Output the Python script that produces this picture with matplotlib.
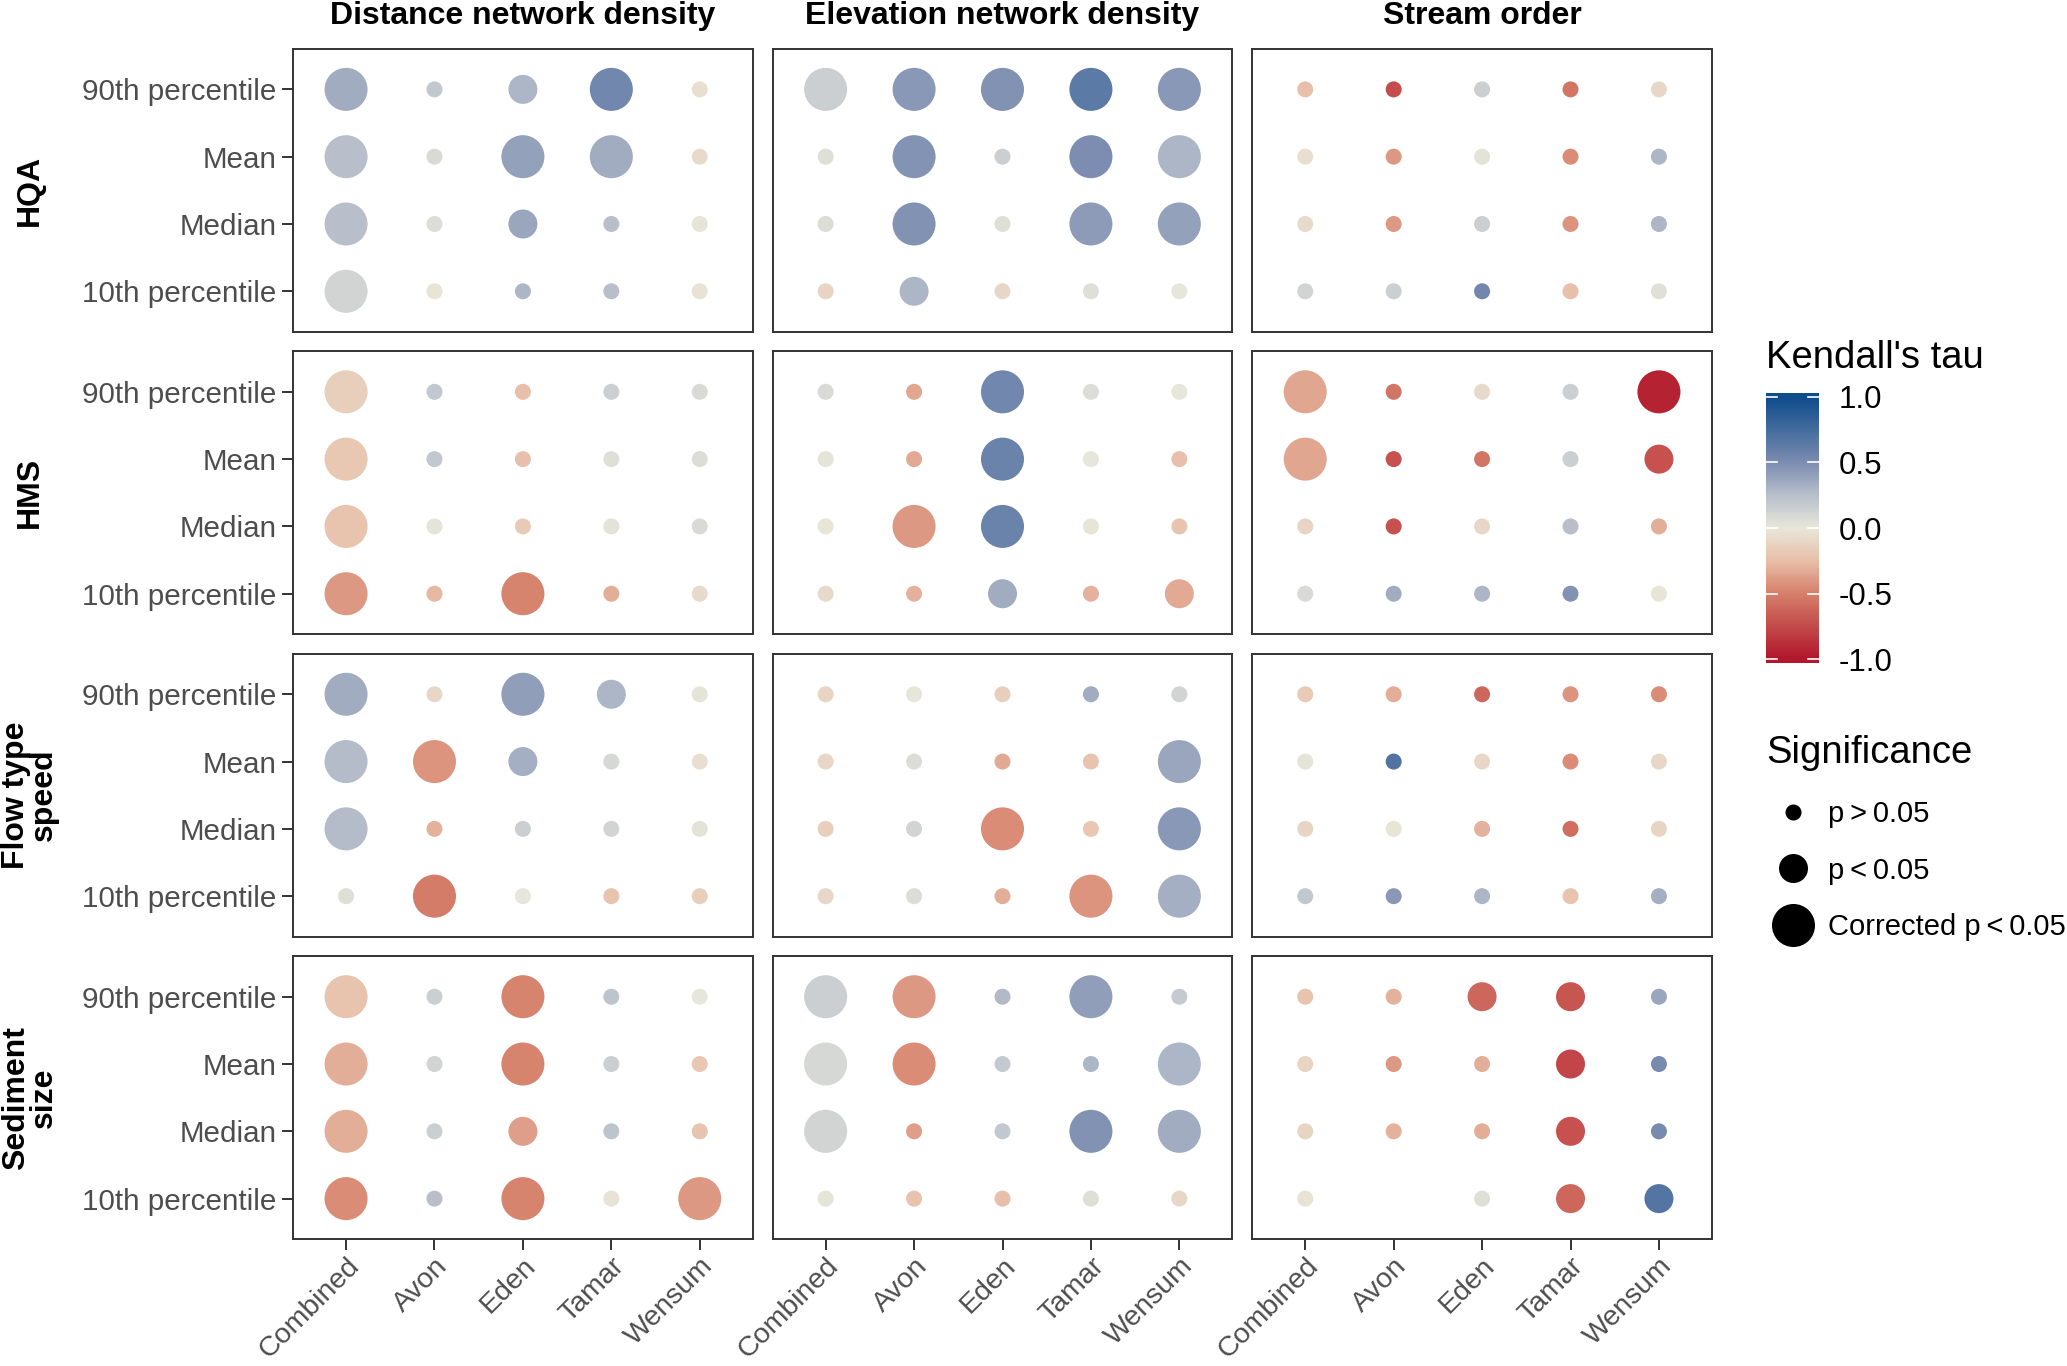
import numpy as np
import matplotlib.pyplot as plt
from matplotlib.colors import LinearSegmentedColormap
from matplotlib.lines import Line2D

plt.rcParams["font.family"] = ["Liberation Sans", "DejaVu Sans"]

# ── data ──────────────────────────────────────────────────────────────────────
sites = ["Combined", "Avon", "Eden", "Tamar", "Wensum"]
stats = ["90th percentile", "Mean", "Median", "10th percentile"]
predictors = ["Distance network density", "Elevation network density", "Stream order"]
responses = ["HQA", "HMS", "Flow type\nspeed", "Sediment\nsize"]
sig_labels = ["p\u2009>\u20090.05", "p\u2009<\u20090.05", "Corrected p\u2009<\u20090.05"]

# tau: rows = stats, cols = sites ; sig: 0 = p>0.05, 1 = p<0.05, 2 = corrected
hqa_distance_tau = [[0.35, 0.20, 0.30, 0.55, -0.05],
                    [0.25, 0.08, 0.40, 0.35, -0.08],
                    [0.25, 0.07, 0.38, 0.25, -0.02],
                    [0.12, -0.02, 0.30, 0.25, -0.03]]
hqa_distance_sig = [[2, 0, 1, 2, 0], [2, 0, 2, 2, 0], [2, 0, 1, 0, 0], [2, 0, 0, 0, 0]]

hqa_elevation_tau = [[0.15, 0.45, 0.48, 0.65, 0.45],
                     [0.05, 0.47, 0.15, 0.50, 0.30],
                     [0.07, 0.48, 0.05, 0.43, 0.40],
                     [-0.12, 0.30, -0.10, 0.05, 0.00]]
hqa_elevation_sig = [[2, 2, 2, 2, 2], [0, 2, 0, 2, 2], [0, 2, 0, 2, 2], [0, 1, 0, 0, 0]]

hqa_stream_tau = [[-0.25, -0.75, 0.15, -0.55, -0.10],
                  [-0.05, -0.40, 0.03, -0.45, 0.30],
                  [-0.08, -0.40, 0.15, -0.42, 0.30],
                  [0.12, 0.15, 0.55, -0.25, 0.04]]
hqa_stream_sig = [[0, 0, 0, 0, 0], [0, 0, 0, 0, 0], [0, 0, 0, 0, 0], [0, 0, 0, 0, 0]]

hms_distance_tau = [[-0.15, 0.20, -0.25, 0.15, 0.08],
                    [-0.20, 0.20, -0.25, 0.05, 0.07],
                    [-0.22, 0.02, -0.18, 0.03, 0.08],
                    [-0.40, -0.28, -0.48, -0.32, -0.08]]
hms_distance_sig = [[2, 0, 0, 0, 0], [2, 0, 0, 0, 0], [2, 0, 0, 0, 0], [2, 0, 2, 0, 0]]

hms_elevation_tau = [[0.08, -0.35, 0.55, 0.07, 0.00],
                     [0.02, -0.33, 0.58, 0.00, -0.25],
                     [-0.02, -0.40, 0.58, -0.02, -0.22],
                     [-0.08, -0.30, 0.35, -0.30, -0.33]]
hms_elevation_sig = [[0, 0, 2, 0, 0], [0, 0, 2, 0, 0], [0, 2, 2, 0, 0], [0, 0, 1, 0, 1]]

hms_stream_tau = [[-0.35, -0.55, -0.08, 0.15, -0.95],
                  [-0.35, -0.72, -0.55, 0.15, -0.72],
                  [-0.12, -0.72, -0.10, 0.25, -0.32],
                  [0.08, 0.35, 0.30, 0.48, -0.02]]
hms_stream_sig = [[2, 0, 0, 0, 2], [2, 0, 0, 0, 1], [0, 0, 0, 0, 0], [0, 0, 0, 0, 0]]

flow_distance_tau = [[0.35, -0.10, 0.42, 0.30, 0.02],
                     [0.27, -0.42, 0.33, 0.10, -0.05],
                     [0.27, -0.30, 0.15, 0.12, 0.03],
                     [0.05, -0.52, 0.00, -0.22, -0.15]]
flow_distance_sig = [[2, 0, 2, 1, 0], [2, 2, 1, 0, 0], [2, 0, 0, 0, 0], [0, 2, 0, 0, 0]]

flow_elevation_tau = [[-0.12, 0.00, -0.15, 0.35, 0.12],
                      [-0.10, 0.07, -0.33, -0.22, 0.38],
                      [-0.15, 0.12, -0.45, -0.20, 0.45],
                      [-0.10, 0.07, -0.32, -0.42, 0.33]]
flow_elevation_sig = [[0, 0, 0, 0, 0], [0, 0, 0, 0, 2], [0, 0, 2, 0, 2], [0, 0, 0, 2, 2]]

flow_stream_tau = [[-0.18, -0.32, -0.62, -0.42, -0.45],
                   [0.02, 0.70, -0.10, -0.45, -0.10],
                   [-0.12, -0.02, -0.30, -0.58, -0.12],
                   [0.20, 0.45, 0.30, -0.22, 0.33]]
flow_stream_sig = [[0, 0, 0, 0, 0], [0, 0, 0, 0, 0], [0, 0, 0, 0, 0], [0, 0, 0, 0, 0]]

sed_distance_tau = [[-0.22, 0.15, -0.48, 0.22, 0.00],
                    [-0.32, 0.12, -0.48, 0.15, -0.20],
                    [-0.32, 0.15, -0.38, 0.22, -0.22],
                    [-0.45, 0.25, -0.48, -0.03, -0.40]]
sed_distance_sig = [[2, 0, 2, 0, 0], [2, 0, 2, 0, 0], [2, 0, 1, 0, 0], [2, 0, 2, 0, 2]]

sed_elevation_tau = [[0.15, -0.40, 0.28, 0.42, 0.18],
                     [0.10, -0.45, 0.18, 0.30, 0.30],
                     [0.12, -0.38, 0.20, 0.48, 0.35],
                     [0.02, -0.22, -0.25, 0.05, -0.10]]
sed_elevation_sig = [[2, 2, 0, 2, 0], [2, 2, 0, 0, 2], [2, 0, 0, 2, 2], [0, 0, 0, 0, 0]]

sed_stream_tau = [[-0.22, -0.30, -0.62, -0.70, 0.38],
                  [-0.12, -0.40, -0.32, -0.78, 0.52],
                  [-0.12, -0.30, -0.32, -0.72, 0.52],
                  [-0.03, np.nan, 0.05, -0.62, 0.68]]
sed_stream_sig = [[0, 0, 1, 1, 0], [0, 0, 0, 1, 0], [0, 0, 0, 1, 0], [0, 0, 0, 1, 1]]

TAU = [[hqa_distance_tau, hqa_elevation_tau, hqa_stream_tau],
       [hms_distance_tau, hms_elevation_tau, hms_stream_tau],
       [flow_distance_tau, flow_elevation_tau, flow_stream_tau],
       [sed_distance_tau, sed_elevation_tau, sed_stream_tau]]
SIG = [[hqa_distance_sig, hqa_elevation_sig, hqa_stream_sig],
       [hms_distance_sig, hms_elevation_sig, hms_stream_sig],
       [flow_distance_sig, flow_elevation_sig, flow_stream_sig],
       [sed_distance_sig, sed_elevation_sig, sed_stream_sig]]

# ── style ─────────────────────────────────────────────────────────────────────
CMAP = LinearSegmentedColormap.from_list("tau", [
    (0.0, "#B2182B"), (0.25, "#D6806B"), (0.375, "#E8BFA9"), (0.5, "#E8E7DA"),
    (0.625, "#B9C0CC"), (0.75, "#7D8EB1"), (1.0, "#0F4C8C")])
SIZES = [133, 436, 960]
W, H = 2067, 1366
TICK_FS = 21.3
TITLE_FS = 23
GREY = "#4D4D4D"

fig = plt.figure(figsize=(W / 100, H / 100), dpi=100)
gs = fig.add_gridspec(4, 3, left=293 / W, right=1712 / W, top=1 - 49 / H,
                      bottom=1 - 1239 / H, wspace=0.043, hspace=0.07)

xs = np.arange(1, 6)
ys = np.arange(4, 0, -1)
for r in range(4):
    for c in range(3):
        ax = fig.add_subplot(gs[r, c])
        tau = np.array(TAU[r][c], dtype=float)
        sig = np.array(SIG[r][c])
        X, Y = np.meshgrid(xs, ys)
        ok = ~np.isnan(tau)
        ax.scatter(X[ok], Y[ok], s=np.array(SIZES)[sig[ok]], c=tau[ok], cmap=CMAP,
                   vmin=-1, vmax=1, linewidths=0, zorder=3)
        ax.set_xlim(0.4, 5.6)
        ax.set_ylim(0.4, 4.6)
        ax.set_xticks(xs)
        ax.set_yticks(ys)
        for sp in ax.spines.values():
            sp.set_color("#333333")
            sp.set_linewidth(1.4)
        ax.tick_params(length=8, width=1.4, color="#333333", labelcolor=GREY,
                       labelsize=TICK_FS, pad=4, left=(c == 0), bottom=(r == 3))
        ax.tick_params(axis="x", labelsize=20.5, pad=2)
        if c == 0:
            ax.set_yticklabels(stats)
        else:
            ax.set_yticklabels([])
        if r == 3:
            ax.set_xticklabels(sites, rotation=45, ha="right", va="top",
                               rotation_mode="anchor")
        else:
            ax.set_xticklabels([])
        if r == 0:
            ax.set_title(predictors[c], fontsize=TITLE_FS, fontweight="bold", pad=18)
        if c == 0:
            pos = ax.get_position()
            fig.text(30 / W, (pos.y0 + pos.y1) / 2, responses[r], rotation=90,
                     ha="center", va="center", fontsize=TITLE_FS, fontweight="bold",
                     multialignment="center", linespacing=0.9)

# ── colour legend ─────────────────────────────────────────────────────────────
fig.text(1766 / W, 1 - 358 / H, "Kendall's tau", fontsize=27.5, va="center", ha="left")
cax = fig.add_axes([1766 / W, 1 - 663 / H, 53 / W, 270 / H])
grad = np.linspace(-1.03, 1.03, 256).reshape(-1, 1)
cax.imshow(grad, aspect="auto", cmap=CMAP, vmin=-1, vmax=1, origin="lower",
           extent=[0, 1, -1.03, 1.03])
cax.set_xlim(0, 1)
cax.set_ylim(-1.03, 1.03)
cax.set_xticks([])
for t in [-1, -0.5, 0, 0.5, 1]:
    cax.plot([0, 0.2], [t, t], color="white", lw=1.2)
    cax.plot([0.8, 1], [t, t], color="white", lw=1.2)
cax.yaxis.tick_right()
cax.set_yticks([-1, -0.5, 0, 0.5, 1])
cax.set_yticklabels(["-1.0", "-0.5", "0.0", "0.5", "1.0"])
cax.tick_params(length=0, labelsize=22.5, pad=14)
for sp in cax.spines.values():
    sp.set_visible(False)

# ── size legend ───────────────────────────────────────────────────────────────
fig.text(1766 / W, 1 - 753 / H, "Significance", fontsize=27.5, va="center", ha="left")
handles = [Line2D([], [], marker="o", ls="", color="black", markeredgewidth=0,
                  markersize=np.sqrt(s)) for s in SIZES]
fig.legend(handles, sig_labels, loc="upper left",
           bbox_to_anchor=(1764 / W, 1 - 800 / H), frameon=False, fontsize=21,
           handletextpad=0.2, labelspacing=0.98, borderaxespad=0, borderpad=0)

fig.savefig("out.png", dpi=100)
